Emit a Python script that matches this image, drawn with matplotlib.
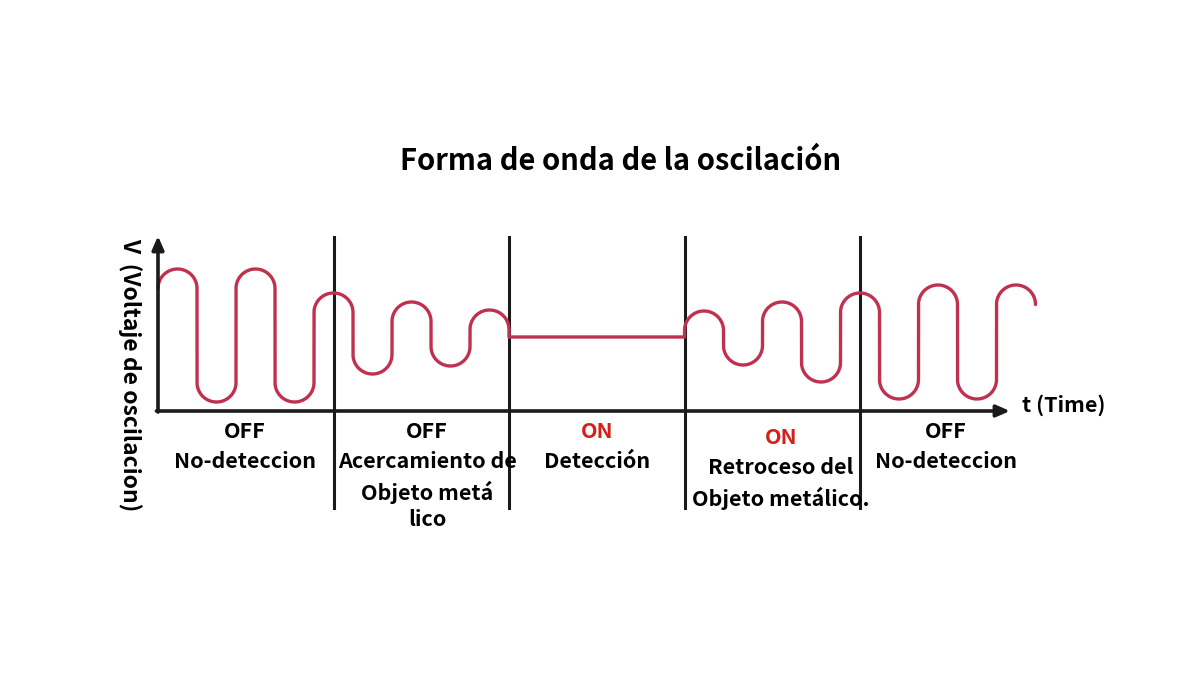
import numpy as np
import matplotlib
matplotlib.use("Agg")
import matplotlib.pyplot as plt

plt.rcParams['font.family'] = ['Noto Sans CJK KR', 'DejaVu Sans']

# ---- data (time in half-periods, voltage in arbitrary units) ----
title = "Forma de onda de la oscilación"
first_peaks = [14.2, 0.9, 14.2, 0.9, 11.8, 3.7, 10.9, 4.5, 10.1]   # half-cycles 0..8
flat_level = 7.4                                                    # detection: no oscillation
last_peaks = [10.0, 4.6, 10.9, 2.9, 11.8, 1.2, 12.6, 1.2, 12.6]     # half-cycles from t=13.5
first_start = 0.0
flat_start, flat_end = 9.0, 13.5
dividers = [4.5, 9.0, 13.5, 18.0]
section_centers = [2.23, 6.9, 11.26, 15.97, 20.2]
section_states = ["OFF", "OFF", "ON", "ON", "OFF"]
section_texts = [["No-deteccion"],
                 ["Acercamiento de", "Objeto metá", "lico"],
                 ["Detección"],
                 ["Retroceso del", "Objeto metálico."],
                 ["No-deteccion"]]
x_label = "t (Time)"
y_label = "V  (Voltaje de oscilacion)"

WAVE = '#C0304F'
RED = '#D42018'
INK = '#1A1A1A'

PX_X = 39.0   # pixels per half-period
PX_Y = 10.0   # pixels per voltage unit
x0_px, y0_px = 158.0, 411.0

fig = plt.figure(figsize=(12, 6.75), dpi=100)
ax = fig.add_axes([0, 0, 1, 1])
ax.set_xlim(-x0_px / PX_X, (1200 - x0_px) / PX_X)
ax.set_ylim(-(675 - y0_px) / PX_Y, y0_px / PX_Y)
ax.axis('off')

rx = 0.5
ry = 19.5 / PX_Y


def arcs(start, peaks, up_first=True):
    xs, ys = [], []
    for i, p in enumerate(peaks):
        up = (i % 2 == 0) if up_first else (i % 2 == 1)
        xc = start + i + 0.5
        if up:
            c = p - ry
            th = np.linspace(np.pi, 0, 40)
        else:
            c = p + ry
            th = np.linspace(np.pi, 2 * np.pi, 40)
        xs.extend(xc + rx * np.cos(th))
        ys.extend(c + ry * np.sin(th))
    return xs, ys

x1, y1 = arcs(first_start, first_peaks)
x2, y2 = arcs(flat_end, last_peaks)
wx = x1 + [flat_start, flat_end] + x2
wy = y1 + [flat_level, flat_level] + y2
ax.plot(wx, wy, color=WAVE, lw=2.4, solid_capstyle='round', solid_joinstyle='round', zorder=3)

# dividers
div_top = (y0_px - 237) / PX_Y
div_bot = (y0_px - 508) / PX_Y
for d in dividers:
    ax.plot([d, d], [div_bot, div_top], color=INK, lw=2.2, zorder=2)

# axes with arrows
x_end = (1010 - x0_px) / PX_X
y_end = (y0_px - 236) / PX_Y
ax.annotate('', xy=(x_end, 0), xytext=(-0.04, 0),
            arrowprops=dict(arrowstyle='-|>,head_length=0.8,head_width=0.35', lw=2.6,
                            color=INK, shrinkA=0, shrinkB=0), zorder=4)
ax.annotate('', xy=(0, y_end), xytext=(0, -0.1),
            arrowprops=dict(arrowstyle='-|>,head_length=0.8,head_width=0.35', lw=2.6,
                            color=INK, shrinkA=0, shrinkB=0), zorder=4)

# texts
ax.text((621 - x0_px) / PX_X, (y0_px - 161) / PX_Y, title, ha='center', va='center',
        fontsize=21, fontweight='bold', color='black')
ax.text((1022 - x0_px) / PX_X, (y0_px - 405) / PX_Y, x_label, ha='left', va='center',
        fontsize=15.5, fontweight='bold', color='black')
ax.text((130 - x0_px) / PX_X, (y0_px - 375) / PX_Y, y_label, ha='center', va='center',
        rotation=270, fontsize=16.5, fontweight='bold', color='black')

line_px = 30.0
for i, (cx, st, lines) in enumerate(zip(section_centers, section_states, section_texts)):
    top_px = 438 if i == 3 else 432
    ax.text(cx, (y0_px - top_px) / PX_Y, st, ha='center', va='center', fontsize=15.5,
            fontweight='bold', color=RED if st == "ON" else 'black')
    for j, ln in enumerate(lines):
        ypx = top_px + line_px * (j + 1) - (2 if j == 2 else 0)
        ax.text(cx, (y0_px - ypx) / PX_Y, ln, ha='center', va='center', fontsize=15.5,
                fontweight='bold', color='black')

fig.savefig('out.png', dpi=100, facecolor='white')
